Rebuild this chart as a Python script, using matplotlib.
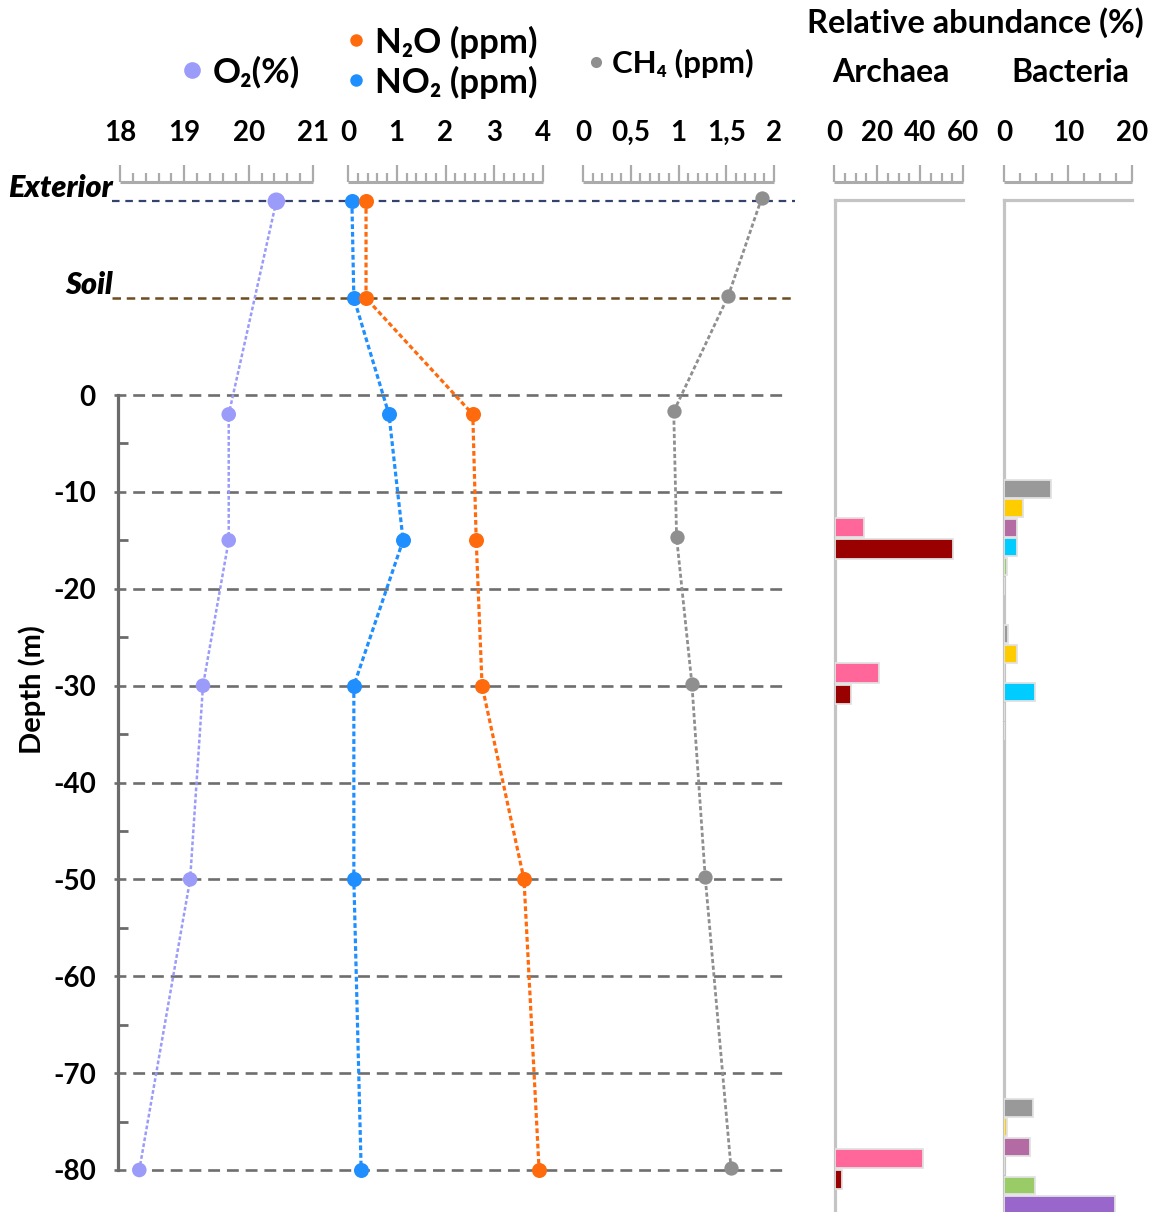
import matplotlib
matplotlib.use("Agg")
import matplotlib.pyplot as plt
from matplotlib.lines import Line2D
from matplotlib.ticker import MultipleLocator, FuncFormatter, FixedLocator
import matplotlib.transforms as mtrans

plt.rcParams['font.family'] = ['Lato', 'DejaVu Sans']
plt.rcParams['axes.unicode_minus'] = False

# ---------------- data ----------------
EXTERIOR = 20      # plotted level of the "Exterior" sample
SOIL = 10          # plotted level of the "Soil" sample
depth_ticks = [0, -10, -20, -30, -40, -50, -60, -70, -80]

o2_depth = [EXTERIOR, -2, -15, -30, -50, -80]
o2_pct = [20.43, 19.69, 19.69, 19.29, 19.09, 18.30]

gas_depth = [EXTERIOR, SOIL, -2, -15, -30, -50, -80]
n2o_ppm = [0.37, 0.37, 2.56, 2.63, 2.75, 3.61, 3.92]
no2_ppm = [0.08, 0.12, 0.84, 1.13, 0.12, 0.12, 0.27]

ch4_depth = [20.3, 10.2, -1.7, -14.7, -29.8, -49.8, -79.8]
ch4_ppm = [1.87, 1.52, 0.95, 0.98, 1.14, 1.28, 1.55]

sample_depths = [-15, -30, -80]
archaea_groups = ['Archaea A', 'Archaea B']
archaea_values = {
    'Archaea A': [13.7, 20.7, 41.3],
    'Archaea B': [55.4, 7.4, 3.2],
}
bacteria_groups = ['Bact A', 'Bact B', 'Bact C', 'Bact D', 'Bact E', 'Bact F']
bacteria_values = {
    'Bact A': [7.4, 0.6, 4.5],
    'Bact B': [2.9, 2.0, 0.4],
    'Bact C': [2.0, 0.0, 4.0],
    'Bact D': [2.1, 4.8, 0.0],
    'Bact E': [0.4, 0.0, 4.8],
    'Bact F': [0.0, 0.0, 17.4],
}

# ---------------- styles / layout ----------------
C_O2 = '#9b9bfa'
C_N2O = '#ff6a0d'
C_NO2 = '#1f8fff'
C_CH4 = '#8f8f8f'
archaea_colors = ['#ff6699', '#990000']
bacteria_colors = ['#999999', '#ffcc00', '#b46ba4', '#00ccff', '#99cc66', '#9966cc']

W, H = 1153, 1212
DPI = 100
fig = plt.figure(figsize=(W / DPI, H / DPI), dpi=DPI)


def fx(px):
    return px / W


def fy(py):
    return 1 - py / H


# depth <-> pixel mapping
D0_PX = 395.0
PX_PER_M = 9.6875


def px2depth(py):
    return (D0_PX - py) / PX_PER_M


def span_lim(px_left, px_right, p0, v0, p1, v1):
    # value limits for an axis spanning px_left..px_right with v0 at p0 and v1 at p1
    k = (v1 - v0) / (p1 - p0)
    return (v0 + (px_left - p0) * k, v0 + (px_right - p0) * k)


AX_L, AX_R = 118, 795
AX_TOP, AX_BOT = 190, 1212
ax = fig.add_axes([fx(AX_L), fy(AX_BOT), fx(AX_R) - fx(AX_L), fy(AX_TOP) - fy(AX_BOT)])
ax.set_ylim(px2depth(AX_BOT), px2depth(AX_TOP))
ax.set_xlim(*span_lim(AX_L, AX_R, 120, 18, 313, 21))
ax.patch.set_visible(False)
for s in ['top', 'right', 'bottom']:
    ax.spines[s].set_visible(False)
ax.spines['left'].set_bounds(depth_ticks[-1], depth_ticks[0])
ax.spines['left'].set_color('#6b6b6b')
ax.spines['left'].set_linewidth(2.3)
ax.set_xticks([])
ax.yaxis.set_major_locator(FixedLocator(depth_ticks))
ax.yaxis.set_major_formatter(FuncFormatter(lambda v, p: f"{int(v)}"))
ax.yaxis.set_minor_locator(FixedLocator([d - 5 for d in depth_ticks[:-1]]))
ax.tick_params(axis='y', which='major', direction='in', length=0, pad=16,
               labelsize=20, labelcolor='black')
ax.tick_params(axis='y', which='minor', direction='in', length=7, width=2, color='#6b6b6b')
for lab in ax.get_yticklabels():
    lab.set_fontweight('bold')

# horizontal gridlines
gx0 = -4 / (AX_R - AX_L)
gx1 = (785 - AX_L) / (AX_R - AX_L)
for d in depth_ticks:
    ax.axhline(d, xmin=gx0, xmax=gx1, color='#6e6e6e', lw=1.9,
               ls=(0, (4.5, 2.6)), clip_on=False, zorder=1)
ax.axhline(EXTERIOR, xmin=-6 / (AX_R - AX_L), xmax=1, color='#34426e', lw=1.6,
           ls=(0, (3.4, 2.6)), clip_on=False, zorder=1)
ax.axhline(SOIL, xmin=-6 / (AX_R - AX_L), xmax=1, color='#6d4c1f', lw=1.8,
           ls=(0, (3.4, 2.3)), clip_on=False, zorder=1)

blend = mtrans.blended_transform_factory(ax.transAxes, ax.transData)
ax.text(-5 / (AX_R - AX_L), px2depth(188), 'Exterior', transform=blend, ha='right',
        va='center', fontsize=22, fontweight='heavy', style='italic')
ax.text(-5 / (AX_R - AX_L), px2depth(285), 'Soil', transform=blend, ha='right',
        va='center', fontsize=22, fontweight='heavy', style='italic')

fig.text(fx(32), fy(690), 'Depth (m)', rotation=90, ha='center', va='center',
         fontsize=21, fontweight='bold')

# O2 series (main axes)
ax.plot(o2_pct, o2_depth, color=C_O2, lw=1.8, ls=(0, (1.5, 0.9)), zorder=3)
ax.scatter(o2_pct, o2_depth, s=[160 if d == EXTERIOR else 110 for d in o2_depth],
           color=C_O2, zorder=4, linewidths=0)

# N2O / NO2 series
axn = ax.twiny()
axn.set_xlim(*span_lim(AX_L, AX_R, 348, 0, 543, 4))
axn.axis('off')
axn.plot(no2_ppm, gas_depth, color=C_NO2, lw=2.3, ls=(0, (1.5, 0.9)), zorder=3,
         marker='o', ms=10.8, mew=0)
axn.plot(n2o_ppm, gas_depth, color=C_N2O, lw=2.3, ls=(0, (1.5, 0.9)), zorder=3,
         marker='o', ms=10.8, mew=0)

# CH4 series
axc = ax.twiny()
axc.set_xlim(*span_lim(AX_L, AX_R, 583, 0, 774, 2))
axc.axis('off')
axc.plot(ch4_ppm, ch4_depth, color=C_CH4, lw=2.0, ls=(0, (1.5, 0.9)), zorder=3,
         marker='o', ms=10.3, mew=0)


# ---------------- top rulers ----------------
def ruler(px0, px1, v0, v1, major, minor, fmt=None):
    r = fig.add_axes([fx(px0), fy(182), fx(px1) - fx(px0), 0.0001])
    r.set_xlim(v0, v1)
    r.patch.set_visible(False)
    for s in ['top', 'left', 'right']:
        r.spines[s].set_visible(False)
    r.spines['bottom'].set_color('#ababab')
    r.spines['bottom'].set_linewidth(2.2)
    r.spines['bottom'].set_capstyle('butt')
    r.set_yticks([])
    r.xaxis.set_major_locator(MultipleLocator(major))
    r.xaxis.set_minor_locator(MultipleLocator(minor))
    if fmt is not None:
        r.xaxis.set_major_formatter(FuncFormatter(fmt))
    r.tick_params(axis='x', which='both', direction='in', bottom=True, top=False,
                  labelbottom=False, labeltop=True, color='#ababab', width=1.6)
    r.tick_params(axis='x', which='major', length=12, pad=26, labelsize=20)
    r.tick_params(axis='x', which='minor', length=6.5)
    for lab in r.get_xticklabels(which='major'):
        lab.set_fontweight('bold')
    return r


ruler(120, 313, 18, 21, 1, 0.2, lambda v, p: f"{v:g}")
ruler(348, 543, 0, 4, 1, 0.2, lambda v, p: f"{v:g}")
ruler(583, 774, 0, 2, 0.5, 0.1, lambda v, p: f"{v:g}".replace('.', ','))
ruler(834, 963, 0, 60, 20, 5, lambda v, p: f"{v:g}")
ruler(1004, 1132, 0, 20, 10, 2.5, lambda v, p: f"{v:g}")


# ---------------- bar panels ----------------
def bar_panel(px0, px1, vmax):
    b = fig.add_axes([fx(px0), fy(AX_BOT), fx(px1) - fx(px0), fy(200) - fy(AX_BOT)])
    b.set_xlim(0, vmax)
    b.set_ylim(px2depth(AX_BOT), px2depth(200))
    b.patch.set_visible(False)
    for s in ['bottom', 'right']:
        b.spines[s].set_visible(False)
    for s in ['left', 'top']:
        b.spines[s].set_color('#c4c4c4')
        b.spines[s].set_linewidth(2.3)
    b.set_xticks([])
    b.set_yticks([])
    return b


axa = bar_panel(835, 963, 60)
arch_offset = [1.3, 1.3, 1.2]
for i, (g, c) in enumerate(zip(archaea_groups, archaea_colors)):
    ys = [d + o - i * 2.2 for d, o in zip(sample_depths, arch_offset)]
    axa.barh(ys, archaea_values[g], height=2.0, color=c, edgecolor='#e2e2e2',
             lw=1.3, zorder=3)

axb = bar_panel(1004, 1132, 20)
bact_offset = [5.3, 5.3, 6.4]
for i, (g, c) in enumerate(zip(bacteria_groups, bacteria_colors)):
    ys = [d + o - i * 2.0 for d, o in zip(sample_depths, bact_offset)]
    axb.barh(ys, bacteria_values[g], height=1.85, color=c, edgecolor='#e2e2e2',
             lw=1.3, zorder=3)


# ---------------- header texts & legend ----------------
def legend_item(mx, my, tx, color, label, fs, ms):
    fs_px = fs * DPI / 72
    h = 0.5
    anchor = mx - h * fs_px / 2
    pad = (tx - mx - h * fs_px / 2) / fs_px
    handle = Line2D([], [], ls='none', marker='o', color=color, ms=ms, mew=0)
    leg = fig.legend([handle], [label], loc='center left',
                     bbox_to_anchor=(fx(anchor), fy(my)), frameon=False,
                     fontsize=fs, handlelength=h, handletextpad=pad,
                     borderpad=0, borderaxespad=0)
    for t in leg.get_texts():
        t.set_fontweight('bold')


legend_item(192, 72, 213, C_O2, 'O₂(%)', 25, 12)
legend_item(356, 42, 375, C_N2O, 'N₂O (ppm)', 25, 9)
legend_item(356, 82, 375, C_NO2, 'NO₂ (ppm)', 25, 9)
legend_item(596, 63, 612, C_CH4, 'CH₄ (ppm)', 22.5, 8)

fig.text(fx(975), fy(23), 'Relative abundance (%)', ha='center', va='center',
         fontsize=23.5, fontweight='bold')
fig.text(fx(891), fy(73), 'Archaea', ha='center', va='center', fontsize=23,
         fontweight='bold')
fig.text(fx(1070), fy(73), 'Bacteria', ha='center', va='center', fontsize=23,
         fontweight='bold')

fig.savefig('out.png', dpi=DPI)
